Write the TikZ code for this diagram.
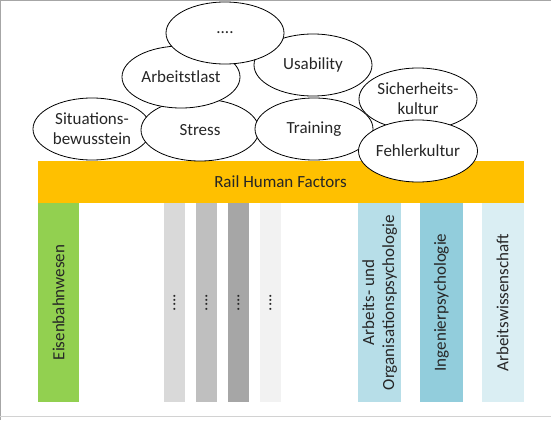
\documentclass[tikz,border=0pt]{standalone}
\usepackage{fontspec}
\setmainfont{Carlito}
\usetikzlibrary{shapes.geometric}
\definecolor{rhforange}{HTML}{FFC000}
\definecolor{rhfgreen}{HTML}{92D050}
\definecolor{rhfblueA}{HTML}{B7DEE8}
\definecolor{rhfblueB}{HTML}{92CDDC}
\definecolor{rhfblueC}{HTML}{DAEEF3}
\definecolor{rhfgreyA}{HTML}{D9D9D9}
\definecolor{rhfgreyB}{HTML}{BFBFBF}
\definecolor{rhfgreyC}{HTML}{A6A6A6}
\definecolor{rhfgreyD}{HTML}{F2F2F2}
\begin{document}
\begin{tikzpicture}[x = 1pt, y = -1pt, font = \fontsize{17}{20}\selectfont, text = black!85,
    bubble/.style = {draw, ellipse, fill = white, line width = 0.8pt, minimum width = 118pt, minimum height = 62pt, inner sep = 0pt, align = center},
    pillar/.style = {rotate = 90, minimum width = 199pt, inner sep = 0pt, align = center}]
    \useasboundingbox (0,0) rectangle (551,420);
    \draw[style = thick, color = gray!70] (0.75,420) -- (0.75,0.75) -- (551,0.75);
    \draw[style = thick, color = gray!35] (0,416) -- (551,416);
    % base bar
    \node[fill = rhforange, minimum width = 486pt, minimum height = 42pt, inner sep = 0pt] (rhf) at (280.5,182) {Rail Human Factors};
    % disciplines
    \node[pillar, fill = rhfgreen, minimum height = 41.5pt] (bahn) at (58.5,302.5) {Eisenbahnwesen};
    \node[pillar, fill = rhfgreyA, minimum height = 21pt] (dotsA) at (174.5,302.5) {....};
    \node[pillar, fill = rhfgreyB, minimum height = 21pt] (dotsB) at (206.5,302.5) {....};
    \node[pillar, fill = rhfgreyC, minimum height = 21pt] (dotsC) at (238.5,302.5) {....};
    \node[pillar, fill = rhfgreyD, minimum height = 21pt] (dotsD) at (270.5,302.5) {....};
    \node[pillar, fill = rhfblueA, minimum height = 43pt] (aopsy) at (379.8,302.5) {Arbeits- und\\Organisationspsychologie};
    \node[pillar, fill = rhfblueB, minimum height = 43pt] (ingpsy) at (441.5,302.5) {Ingenierpsychologie};
    \node[pillar, fill = rhfblueC, minimum height = 42pt] (awiss) at (502.5,302.5) {Arbeitswissenschaft};
    % topics
    \node[bubble] (sit) at (92,129) {Situations-\\bewusstein};
    \node[bubble] (stress) at (200,130) {Stress};
    \node[bubble] (train) at (314,129) {Training};
    \node[bubble] (usab) at (313,65) {Usability};
    \node[bubble] (last) at (181,77) {Arbeitstlast};
    \node[bubble] (more) at (225,33) {....};
    \node[bubble] (sicher) at (418,99) {Sicherheits-\\kultur};
    \node[bubble] (fehler) at (418,151) {Fehlerkultur};
\end{tikzpicture}
\end{document}
